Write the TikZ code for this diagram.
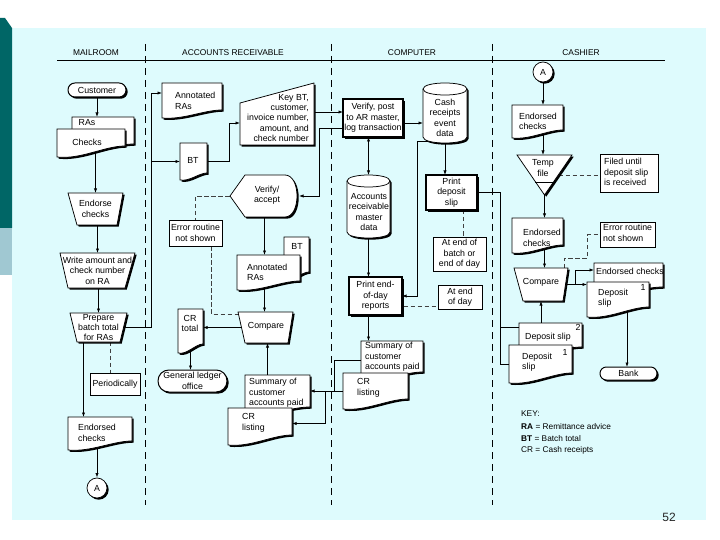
\documentclass[tikz,border=0pt]{standalone}
\usepackage{fontspec}
\setmainfont{Liberation Sans}
\usetikzlibrary{arrows.meta,calc,shadows}
\pgfdeclarelayer{panel}
\pgfdeclarelayer{conn}
\pgfsetlayers{panel,conn,main}
\definecolor{panelc}{RGB}{222,251,253}
\definecolor{tealbar}{RGB}{0,102,102}
\definecolor{tealsoft}{RGB}{160,200,210}
\tikzset{
 bbx/.style={inner sep=0pt,outer sep=0pt,draw=none,rectangle},
 shp/.style={draw=black,fill=white,line width=0.75pt,drop shadow={shadow xshift=1.7pt,shadow yshift=-1.7pt,opacity=1,fill=black}},
 thk/.style={line width=1.6pt},
 ann/.style={draw=black,fill=white,line width=0.6pt},
 txt/.style={inner sep=0pt,font=\fontsize{8.8}{10.4}\selectfont},
 keytxt/.style={inner sep=0pt,anchor=west,font=\fontsize{8.3}{10}\selectfont},
 hdr/.style={inner sep=0pt,font=\fontsize{8.4}{10}\selectfont},
 conn/.style={line width=0.7pt},
 arr/.style={conn,-{Latex[length=4.5pt,width=3.2pt]}},
 darr/.style={conn,{Latex[length=4.5pt,width=3.2pt]}-{Latex[length=4.5pt,width=3.2pt]}},
 dsh/.style={line width=0.6pt,dash pattern=on 4.5pt off 2.5pt,draw=black!75},
 sepl/.style={line width=0.9pt,dash pattern=on 7pt off 5pt},
}
\newcommand\bbnode[5]{\node[bbx,minimum width={(#4)-(#2)},minimum height={(#5)-(#3)}] (#1) at ({((#2)+(#4))/2},{((#3)+(#5))/2}) {};}
\newcommand\DocShape[7][]{%
 \path[shp,#1] (#3,#4) -- (#5,#4) -- (#5,{#6-#7}) .. controls ({#5-0.3*(#5-#3)},{#6-#7}) and ({#3+0.35*(#5-#3)},{#6+0.25*#7}) .. (#3,#6) -- cycle;
 \bbnode{#2}{#3}{#4}{#5}{#6}}
\newcommand\TrapShape[8][]{%
 \path[shp,#1] (#3,#5) -- (#4,#5) -- (#7,#8) -- (#6,#8) -- cycle;
 \bbnode{#2}{#3}{#5}{#4}{#8}}
\newcommand\BoxShape[6][]{\path[shp,#1] (#3,#4) rectangle (#5,#6); \bbnode{#2}{#3}{#4}{#5}{#6}}
\newcommand\AnnShape[5]{\path[ann] (#2,#3) rectangle (#4,#5); \bbnode{#1}{#2}{#3}{#4}{#5}}
\newcommand\TermShape[5]{\path[shp,line width=1pt,rounded corners={0.49*((#5)-(#3))}] (#2,#3) rectangle (#4,#5); \bbnode{#1}{#2}{#3}{#4}{#5}}
\newcommand\CylShape[6]{%
 \path[shp] (#2,{#3+#6}) -- (#2,{#5-#6}) .. controls (#2,{#5+#6/3}) and (#4,{#5+#6/3}) .. (#4,{#5-#6}) -- (#4,{#3+#6}) .. controls (#4,{#3-#6/3}) and (#2,{#3-#6/3}) .. (#2,{#3+#6}) -- cycle;
 \draw[line width=0.75pt] (#2,{#3+#6}) .. controls (#2,{#3+7*#6/3}) and (#4,{#3+7*#6/3}) .. (#4,{#3+#6});
 \bbnode{#1}{#2}{#3}{#4}{#5}}
\begin{document}
\begin{tikzpicture}[x=1pt,y=-1pt]
\useasboundingbox (0,0) rectangle (720,540);
\begin{pgfonlayer}{panel}
 \fill[white] (0,0) rectangle (720,540);
 \fill[panelc] (12,28) rectangle (706,520);
 \fill[tealbar] (0,18) -- (5,18) -- (12,28) -- (12,228) -- (0,228) -- cycle;
 \fill[tealsoft] (0,228) rectangle (12,275);
 \draw[line width=0.8pt] (57,60) -- (665,60);
 \draw[sepl] (145,44) -- (145,505);
 \draw[sepl] (331,44) -- (331,505);
 \draw[sepl] (492,44) -- (492,505);
\end{pgfonlayer}
\node[hdr] (h1) at (96,53) {MAILROOM};
\node[hdr] (h2) at (233,53) {ACCOUNTS RECEIVABLE};
\node[hdr] (h3) at (412,53) {COMPUTER};
\node[hdr] (h4) at (581,53) {CASHIER};
% ---------------- MAILROOM
\TermShape{cust}{68}{83}{126}{97}
\node[txt] (cust-t) at (cust) {Customer};
\DocShape{ras}{72}{117}{134}{152}{8}
\node[txt] (ras-t) at (87,123) {RAs};
\DocShape{chk}{57}{129}{125}{157}{11}
\node[txt] (chk-t) at (87,142) {Checks};
\TrapShape{endorse}{68}{123}{193}{77}{117}{225}
\node[txt,align=center] (endorse-t) at (endorse) {Endorse\\checks};
\TrapShape{write}{60}{135}{253}{68}{125}{288}
\node[txt,align=center] (write-t) at (write) {Write amount and\\check number\\on RA};
\TrapShape{prep}{70}{127}{313}{77}{120}{342}
\node[txt,align=center] (prep-t) at (prep) {Prepare\\batch total\\for RAs};
\AnnShape{period}{90}{373}{140}{395}
\node[txt] (period-t) at (period) {Periodically};
\DocShape{endck}{68}{417}{132}{450}{9}
\node[txt,align=left,anchor=west] (endck-t) at (78,433) {Endorsed\\checks};
\node[shp,circle,minimum size=20pt,txt] (circA1) at (97,488) {A};
% ---------------- ACCOUNTS RECEIVABLE
\DocShape{annras}{162}{83}{222}{118}{8}
\node[txt,align=left,anchor=west] (annras-t) at (175,101) {Annotated\\RAs};
\path[shp] (240,103) -- (314,83) -- (314,145) -- (240,145) -- cycle;
\bbnode{keybt}{240}{83}{314}{145}
\node[txt,align=right,anchor=east] (keybt-t) at (309,118) {Key BT,\\customer,\\invoice number,\\amount, and\\check number};
\DocShape{bt}{180}{143}{207}{180}{7}
\node[txt] (bt-t) at (193,160) {BT};
\BoxShape[thk]{verify}{343}{99}{403}{137}
\node[txt,align=center] (verify-t) at (verify) {Verify, post\\to AR master,\\log transaction};
\path[shp] (230,196) -- (245,175) -- (285,175) .. controls (301,175) and (301,217) .. (285,217) -- (245,217) -- cycle;
\bbnode{vacc}{230}{175}{299}{217}
\node[txt,align=center] (vacc-t) at (267,195) {Verify/\\accept};
\AnnShape{err1}{169}{220}{222}{246}
\node[txt,align=center] (err1-t) at (err1) {Error routine\\not shown};
\DocShape{bt2}{284}{237}{309}{280}{8}
\node[txt] (bt2-t) at (297,246) {BT};
\DocShape{annras2}{237}{255}{300}{290}{9}
\node[txt,align=left,anchor=west] (annras2-t) at (247,272.5) {Annotated\\RAs};
\TrapShape{cmp1}{238}{293}{312}{245}{288}{343}
\node[txt] (cmp1-t) at (266,326) {Compare};
\DocShape{crtot}{178}{309}{203}{353}{9}
\node[txt,align=center] (crtot-t) at (190,323.5) {CR\\total};
\TermShape{glo}{158}{370}{227}{392}
\node[txt,align=center] (glo-t) at (glo) {General ledger\\office};
\DocShape{sum1}{245}{375}{310}{415}{8}
\node[txt,align=left,anchor=west] (sum1-t) at (249,393) {Summary of\\customer\\accounts paid};
\DocShape{crl1}{228}{408}{292}{445}{10}
\node[txt,align=left,anchor=west] (crl1-t) at (242,423) {CR\\listing};
% ---------------- COMPUTER
\CylShape{cash}{423}{83}{467}{143}{6}
\node[txt,align=center] (cash-t) at (445,118) {Cash\\receipts\\event\\data};
\CylShape{armd}{347}{175}{390}{238}{6}
\node[txt,align=center] (armd-t) at (369,212) {Accounts\\receivable\\master\\data};
\BoxShape[thk]{pend}{349}{277}{402}{315}
\node[txt,align=center] (pend-t) at (pend) {Print end-\\of-day\\reports};
\BoxShape[thk]{pdep}{426}{175}{477}{210}
\node[txt,align=center] (pdep-t) at (pdep) {Print\\deposit\\slip};
\AnnShape{ateob}{433}{237}{486}{271}
\node[txt,align=center] (ateob-t) at (ateob) {At end of\\batch or\\end of day};
\AnnShape{ateod}{438}{285}{482}{309}
\node[txt,align=center] (ateod-t) at (ateod) {At end\\of day};
\DocShape{sum2}{361}{341}{423}{380}{8}
\node[txt,align=left,anchor=west] (sum2-t) at (365,357) {Summary of\\customer\\accounts paid};
\DocShape{crl2}{343}{373}{408}{409}{10}
\node[txt,align=left,anchor=west] (crl2-t) at (357,388) {CR\\listing};
% ---------------- CASHIER
\node[shp,circle,minimum size=20pt,txt] (circA2) at (543,72) {A};
\DocShape{endck2}{512}{105}{563}{138}{8}
\node[txt,align=left,anchor=west] (endck2-t) at (519,121.5) {Endorsed\\checks};
\path[shp] (517,155) -- (572,155) -- (544.5,195) -- cycle;
\draw[line width=0.75pt] (535.2,182) -- (553.8,182);
\bbnode{temp}{517}{155}{572}{195}
\node[txt,align=center] (temp-t) at (543,168) {Temp\\file};
\AnnShape{filed}{600}{154}{658}{192}
\node[txt,align=left,anchor=west] (filed-t) at (604,172) {Filed until\\deposit slip\\is received};
\DocShape{endck3}{512}{218}{563}{253}{8}
\node[txt,align=left,anchor=west] (endck3-t) at (523,238) {Endorsed\\checks};
\TrapShape{cmp2}{514}{568}{268}{523}{563}{301}
\node[txt] (cmp2-t) at (541,282) {Compare};
\AnnShape{err2}{600}{222}{655}{247}
\node[txt,align=left,anchor=west] (err2-t) at (603,233) {Error routine\\not shown};
\DocShape{endck4}{594}{263}{663}{295}{8}
\node[txt,anchor=west] (endck4-t) at (596,271) {Endorsed checks};
\DocShape{dslipa}{587}{282}{649}{317}{10}
\node[txt,align=left,anchor=west] (dslipa-t) at (598,298.5) {Deposit\\slip};
\node[txt] (dslipa-n) at (643,287) {1};
\DocShape{dsl2}{519}{323}{582}{355}{8}
\node[txt,anchor=west] (dsl2-t) at (525,337) {Deposit slip};
\node[txt] (dsl2-n) at (578,327) {2};
\DocShape{dsl1}{509}{345}{572}{383}{10}
\node[txt,align=left,anchor=west] (dsl1-t) at (522,362.5) {Deposit\\slip};
\node[txt] (dsl1-n) at (565,352) {1};
\TermShape{bank}{600}{367}{657}{380}
\node[txt] (bank-t) at (bank) {Bank};
% ---------------- KEY
\node[keytxt] (key0) at (521,414) {KEY:};
\node[keytxt] (key1) at (521,427) {\textbf{RA} = Remittance advice};
\node[keytxt] (key2) at (521,439) {\textbf{BT} = Batch total};
\node[keytxt] (key3) at (521,450) {CR = Cash receipts};
\node[inner sep=0pt,font=\fontsize{12}{14}\selectfont,text=black!85] (pg) at (669,517) {52};
% ---------------- CONNECTORS
\begin{pgfonlayer}{conn}
 % mailroom
 \draw[arr] (cust.south) -- (cust.south |- ras.north);
 \draw[arr] (endorse.north |- chk.center) -- (endorse.north);
 \draw[arr] (write.north |- endorse.center) -- (write.north);
 \draw[arr] (prep.north |- write.center) -- (prep.north);
 \draw[arr] ($(prep.center)+(-15,0)$) coordinate (p1) -- (p1 |- endck.north);
 \draw[dsh] ($(prep.center)+(12,0)$) coordinate (p2) -- (p2 |- period.north);
 \draw[arr] (circA1.north |- endck.center) -- (circA1.north);
 \draw[arr] (prep.center) -- ++(53,0) coordinate (j1) |- ($(annras.north west)+(0,10)$);
 \draw[arr] (j1) |- (bt.west);
 % accounts receivable
 \draw[arr] (bt.center) -- ++(36,0) |- ($(keybt.south west)+(0,-22)$);
 \draw[arr] ($(keybt.center)+(0,-2)$) coordinate (k1) -- (k1 -| verify.west);
 \draw[arr] ($(verify.center)+(0,10)$) -- ++(-54,0) |- (vacc.east);
 \draw[dsh] (vacc.center) -| (err1.north);
 \draw[dsh] ($(err1.south)+(16,0)$) |- ($(cmp1.north west)+(1,2)$);
 \draw[arr] (vacc.center) -- (vacc.center |- annras2.north);
 \draw[arr] (annras2.center -| vacc.center) -- (vacc.center |- cmp1.north);
 \draw[arr] (cmp1.center) -- (cmp1.center -| crtot.east);
 \draw[arr] (crtot.center) -- (crtot.center |- glo.north);
 \draw[arr] ($(sum1.center)+(-10,0)$) coordinate (s1) -- (s1 |- cmp1.south);
 % computer
 \draw[arr] ($(verify.center)+(0,5)$) coordinate (v2) -- (v2 -| cash.west);
 \draw[darr] (armd.north |- verify.south) -- (armd.north);
 \draw[arr] (armd.center) -- (armd.center |- pend.north);
 \draw[arr] (cash.center) -- (cash.center |- pdep.north);
 \draw[arr] ($(cash.south west)+(8,-2)$) -- ++(-14,0) |- (pend.east);
 \draw[dsh] ($(pdep.south)+(12,0)$) coordinate (d1) -- (d1 |- ateob.north);
 \draw[dsh] ($(pend.center)+(0,10)$) coordinate (e1) -- (e1 -| ateod.west);
 \draw[arr] (pend.center -| armd.center) -- (armd.center |- sum2.north);
 \draw[arr] (sum2.center) -- ++(-58,0) |- ($(sum1.east)+(0,-4)$);
 \draw[arr] (crl2.center) -- ++(-50.5,0) |- ($(crl1.east)+(0,-3)$);
 \draw[conn] (pdep.center) -- ++(48.5,0) coordinate (j2) |- (dsl1.center);
 \draw[conn] (j2) |- ($(dsl2.center)+(0,-12)$);
 % cashier
 \draw[arr] (circA2.south) -- (circA2.south |- endck2.north);
 \draw[arr] (circA2.south |- endck2.center) -- (circA2.south |- temp.north);
 \draw[dsh] (temp.center) -- (temp.center -| filed.west);
 \draw[arr] (temp.south) -- (temp.south |- endck3.north);
 \draw[arr] (temp.south |- endck3.center) -- (temp.south |- cmp2.north);
 \draw[arr] (cmp2.south |- dsl2.center) -- (cmp2.south);
 \draw[dsh] ($(cmp2.north east)+(-4,0)$) -- ++(0,-10) -- ++(23,0) |- (err2.west);
 \draw[arr] (cmp2.center) -- (cmp2.center -| dslipa.west);
 \draw[arr] ($(cmp2.center)+(34,0)$) |- ($(endck4.north west)+(0,7)$);
 \draw[arr] ($(dslipa.center)+(9,0)$) coordinate (b1) -- (b1 |- bank.north);
\end{pgfonlayer}
\end{tikzpicture}
\end{document}
